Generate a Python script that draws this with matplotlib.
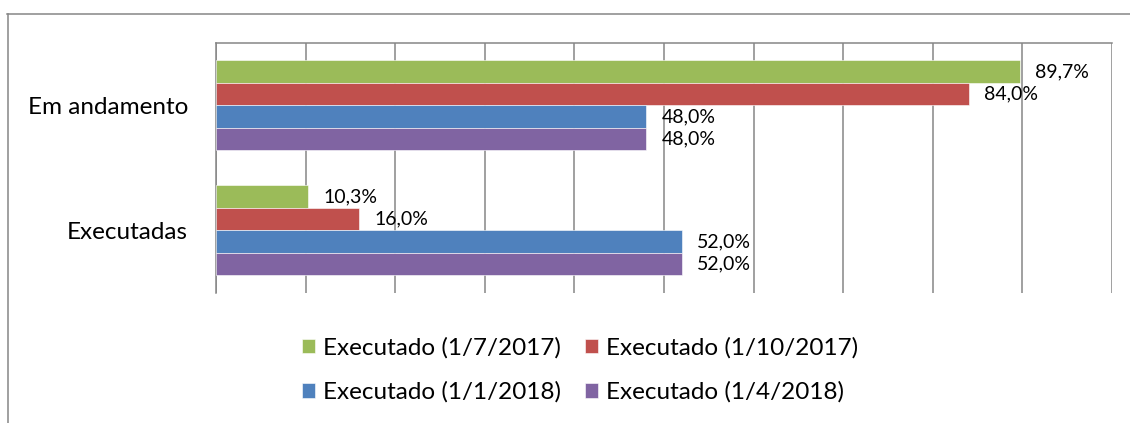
import matplotlib.pyplot as plt
from matplotlib.lines import Line2D
import numpy as np

plt.rcParams['font.family'] = ['Lato', 'DejaVu Sans']

categorias = ["Em andamento", "Executadas"]
series = ["Executado (1/7/2017)", "Executado (1/10/2017)",
          "Executado (1/1/2018)", "Executado (1/4/2018)"]
valores = [
    [0.897, 0.103],
    [0.840, 0.160],
    [0.480, 0.520],
    [0.480, 0.520],
]
rotulos = [
    ["89,7%", "10,3%"],
    ["84,0%", "16,0%"],
    ["48,0%", "52,0%"],
    ["48,0%", "52,0%"],
]
cores = ["#9BBB59", "#C0504D", "#4F81BD", "#8064A2"]

W, H = 1130, 423
fig = plt.figure(figsize=(W / 100, H / 100), dpi=100)
ax = fig.add_axes([216 / W, 1 - 293 / H, (1112 - 216) / W, (293 - 43) / H])

cinza = "#868686"
h = 0.18
y = np.arange(len(categorias))
barras = []
for i, (vals, cor) in enumerate(zip(valores, cores)):
    pos = y + (i - 1.5) * h
    b = ax.barh(pos, vals, height=h, color=cor, edgecolor="white",
                linewidth=0.4, label=series[i], zorder=3)
    barras.append(b)
    for yy, v, txt in zip(pos, vals, rotulos[i]):
        ax.annotate(txt, (v, yy), xytext=(11, 0), textcoords="offset points",
                    ha="left", va="center", fontsize=14, color="black",
                    zorder=4)

ax.set_xlim(0, 1)
ax.set_ylim(1.5, -0.5)
ax.set_xticks(np.linspace(0, 1, 11))
ax.tick_params(axis="x", length=0, labelbottom=False)
ax.grid(axis="x", color=cinza, linewidth=1.1, zorder=0)
ax.set_yticks(y)
ax.set_yticklabels(categorias, fontsize=17.5)
ax.tick_params(axis="y", length=0, pad=20)
for s in ["bottom", "right"]:
    ax.spines[s].set_visible(False)
for s in ["top", "left"]:
    ax.spines[s].set_color(cinza)
    ax.spines[s].set_linewidth(1.1)

# moldura externa
fig.add_artist(Line2D([7 / W, 1.0], [1 - 14.5 / H] * 2, color=cinza,
                      linewidth=1.1, transform=fig.transFigure))
fig.add_artist(Line2D([7.5 / W] * 2, [0, 1 - 14.5 / H], color=cinza,
                      linewidth=1.1, transform=fig.transFigure))

ordem = [0, 2, 1, 3]
fig.legend([barras[k] for k in ordem], [series[k] for k in ordem],
           ncol=2, loc="center", bbox_to_anchor=(580 / W, 1 - 370 / H),
           frameon=False, fontsize=17.5, handlelength=0.55,
           handleheight=0.55, handletextpad=0.3, columnspacing=1.0,
           labelspacing=0.95, borderpad=0)

fig.savefig("out.png", dpi=100)
